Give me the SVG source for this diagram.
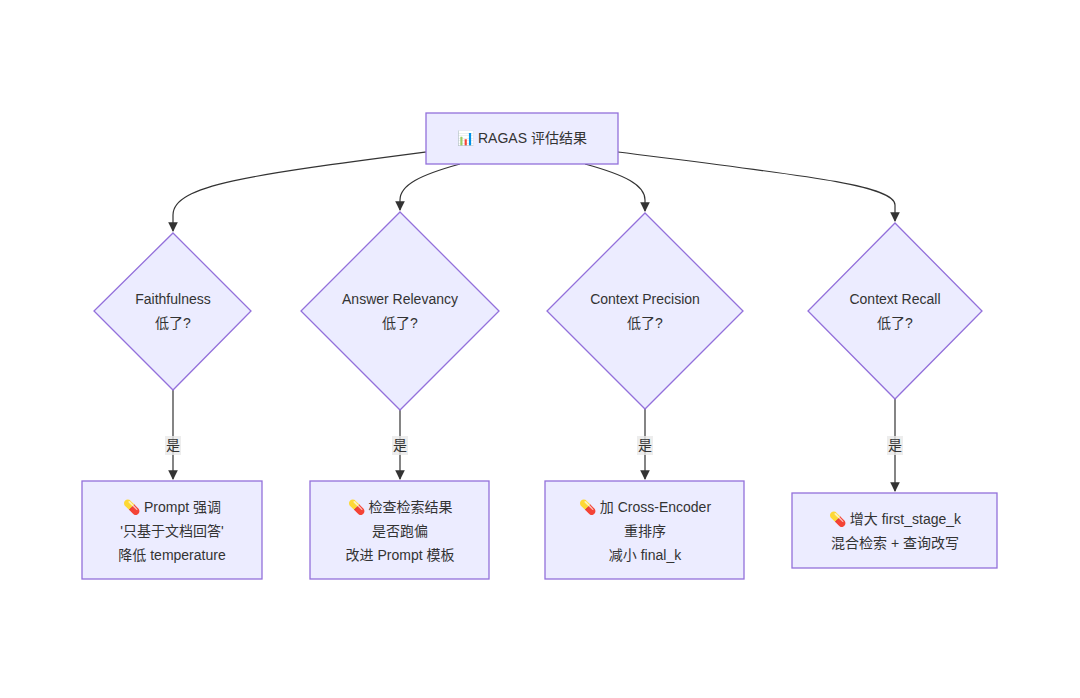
<svg xmlns="http://www.w3.org/2000/svg" width="1080" height="698" viewBox="0 0 1080 698">
<style>
.n{fill:#ECECFF;stroke:#9370DB;stroke-width:1.3}
.t{font-family:"Liberation Sans","Noto Sans CJK SC",sans-serif;font-size:14px;fill:#333;text-anchor:middle}
.e{fill:none;stroke:#333;stroke-width:1.2}
.lb{fill:#e8e8e8;opacity:0.8}
</style>
<defs><marker id="a" viewBox="0 0 10 10" refX="9" refY="5" markerWidth="8" markerHeight="8" orient="auto"><path d="M0,0L10,5L0,10z" fill="#333"/></marker></defs>
<rect width="1080" height="698" fill="#fff"/>
<g id="edges">
<path class="e" d="M426,152 C250,175 173,185 173,215 L173,231" marker-end="url(#a)"/>
<path class="e" d="M460,164 C420,175 400,185 400,200 L400,210" marker-end="url(#a)"/>
<path class="e" d="M585,164 C625,175 645,185 645,200 L645,211" marker-end="url(#a)"/>
<path class="e" d="M618,152 C800,175 895,185 895,205 L895,221" marker-end="url(#a)"/>
<path class="e" d="M173,390 L173,479" marker-end="url(#a)"/>
<path class="e" d="M400,410 L400,479" marker-end="url(#a)"/>
<path class="e" d="M645,409 L645,479" marker-end="url(#a)"/>
<path class="e" d="M895,399 L895,491" marker-end="url(#a)"/>
<rect class="lb" x="165" y="436" width="16" height="19"/><text class="t" x="173" y="450">是</text>
<rect class="lb" x="392" y="436" width="16" height="19"/><text class="t" x="400" y="450">是</text>
<rect class="lb" x="637" y="436" width="16" height="19"/><text class="t" x="645" y="450">是</text>
<rect class="lb" x="887" y="436" width="16" height="19"/><text class="t" x="895" y="450">是</text>
</g>
<g id="root"><rect class="n" x="426" y="113" width="192" height="51"/><text class="t" x="522" y="143">📊 RAGAS 评估结果</text></g>
<g id="d1"><polygon class="n" points="173,233 251,311 173,390 94,311"/><text class="t" x="173" y="304">Faithfulness</text><text class="t" x="173" y="328">低了?</text></g>
<g id="d2"><polygon class="n" points="400,212 499,311 400,410 301,311"/><text class="t" x="400" y="304">Answer Relevancy</text><text class="t" x="400" y="328">低了?</text></g>
<g id="d3"><polygon class="n" points="645,213 743,311 645,409 547,311"/><text class="t" x="645" y="304">Context Precision</text><text class="t" x="645" y="328">低了?</text></g>
<g id="d4"><polygon class="n" points="895,223 982,311 895,399 808,311"/><text class="t" x="895" y="304">Context Recall</text><text class="t" x="895" y="328">低了?</text></g>
<g id="b1"><rect class="n" x="82" y="481" width="180" height="98"/><text class="t" x="172" y="512">💊 Prompt 强调</text><text class="t" x="172" y="536">'只基于文档回答'</text><text class="t" x="172" y="560">降低 temperature</text></g>
<g id="b2"><rect class="n" x="310" y="481" width="179" height="98"/><text class="t" x="400" y="512">💊 检查检索结果</text><text class="t" x="400" y="536">是否跑偏</text><text class="t" x="400" y="560">改进 Prompt 模板</text></g>
<g id="b3"><rect class="n" x="545" y="481" width="199" height="98"/><text class="t" x="645" y="512">💊 加 Cross-Encoder</text><text class="t" x="645" y="536">重排序</text><text class="t" x="645" y="560">减小 final_k</text></g>
<g id="b4"><rect class="n" x="792" y="493" width="205" height="75"/><text class="t" x="895" y="524">💊 增大 first_stage_k</text><text class="t" x="895" y="548">混合检索 + 查询改写</text></g>
</svg>
